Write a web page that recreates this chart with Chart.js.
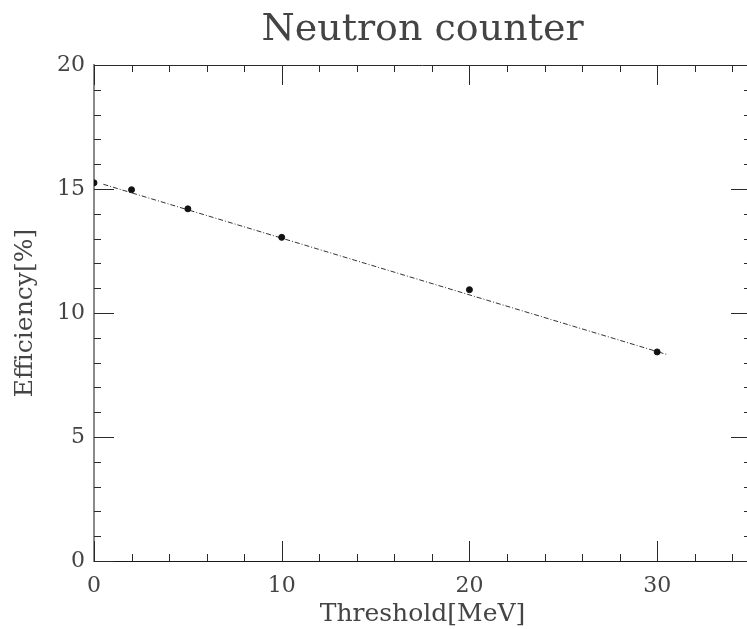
<!DOCTYPE html>
<html>
<head>
<meta charset="utf-8">
<script src="https://cdn.jsdelivr.net/npm/chart.js@4/dist/chart.umd.min.js"></script>
<style>
html,body{margin:0;padding:0;overflow:hidden;background:#fff;}
#wrap{width:755px;height:629px;}
</style>
</head>
<body>
<div id="wrap"><canvas id="c" width="755" height="629"></canvas></div>
<script>
// ---- data ----
const thresholds = [0, 2, 5, 10, 20, 30];          // MeV
const efficiency = [15.25, 14.97, 14.2, 13.05, 10.94, 8.43]; // %
const fitX = [0.5, 30.5];
const fitY = [15.19, 8.33];
const xTickValues = [0, 10, 20, 30];
const yTickValues = [0, 5, 10, 15, 20];
const xMinorStep = 2, yMinorStep = 1;

const TEXT = '#444';
const FONT = "'DejaVu Serif', 'Liberation Serif', serif";

const frameTicks = {
  id: 'frameTicks',
  afterDraw(chart) {
    const {ctx, chartArea: a, scales: {x, y}} = chart;
    ctx.save();
    ctx.strokeStyle = '#2a2a2a';
    ctx.lineWidth = 1;
    ctx.beginPath();
    ctx.moveTo(a.left, a.top + 0.5); ctx.lineTo(a.right, a.top + 0.5);
    ctx.moveTo(a.right - 0.5, a.top); ctx.lineTo(a.right - 0.5, a.bottom);
    for (let v = x.min; v <= x.max + 1e-9; v += xMinorStep) {
      const px = Math.round(x.getPixelForValue(v)) + 0.5;
      ctx.moveTo(px, a.bottom); ctx.lineTo(px, a.bottom - 7);
      ctx.moveTo(px, a.top); ctx.lineTo(px, a.top + 7);
    }
    for (const v of xTickValues) {
      const px = Math.round(x.getPixelForValue(v)) + 0.5;
      ctx.moveTo(px, a.bottom); ctx.lineTo(px, a.bottom - 20);
      ctx.moveTo(px, a.top); ctx.lineTo(px, a.top + 20);
    }
    for (let v = y.min; v <= y.max + 1e-9; v += yMinorStep) {
      const py = Math.round(y.getPixelForValue(v)) + 0.5;
      const len = yTickValues.includes(v) ? 20 : 7;
      ctx.moveTo(a.left, py); ctx.lineTo(a.left + len, py);
      ctx.moveTo(a.right, py); ctx.lineTo(a.right - len, py);
    }
    ctx.stroke();
    ctx.restore();
  }
};

new Chart(document.getElementById('c'), {
  type: 'scatter',
  data: {
    datasets: [
      {
        label: 'Efficiency',
        data: thresholds.map((t, i) => ({x: t, y: efficiency[i]})),
        backgroundColor: '#111',
        borderColor: '#111',
        pointRadius: 3,
        pointHoverRadius: 3,
        showLine: false
      },
      {
        label: 'Fit',
        data: fitX.map((t, i) => ({x: t, y: fitY[i]})),
        showLine: true,
        borderColor: '#333',
        borderWidth: 1,
        borderDash: [5, 2, 1, 2],
        pointRadius: 0,
        pointHoverRadius: 0,
        fill: false
      }
    ]
  },
  options: {
    responsive: false,
    animation: false,
    devicePixelRatio: 1,
    layout: {padding: {left: 0, right: 4, top: 0, bottom: 0}},
    plugins: {
      legend: {display: false},
      tooltip: {enabled: false},
      title: {
        display: true,
        text: 'Neutron counter',
        fullSize: false,
        color: TEXT,
        font: {family: FONT, size: 38, weight: 'normal', lineHeight: 1.2},
        padding: {top: 7, bottom: 12.4}
      }
    },
    scales: {
      x: {
        type: 'linear',
        min: 0, max: 35,
        afterFit: s => { s.height = 68; },
        afterBuildTicks: s => { s.ticks = xTickValues.map(v => ({value: v})); },
        ticks: {
          color: TEXT,
          padding: 12,
          maxRotation: 0,
          font: {family: FONT, size: 22},
          includeBounds: false
        },
        grid: {display: false, drawTicks: false},
        border: {display: true, color: '#1a1a1a', width: 1},
        title: {
          display: true,
          text: 'Threshold[MeV]',
          color: TEXT,
          font: {family: FONT, size: 25, lineHeight: 1.2},
          padding: {top: 0, bottom: 0}
        }
      },
      y: {
        type: 'linear',
        min: 0, max: 20,
        afterFit: s => { s.width = 94; },
        afterBuildTicks: s => { s.ticks = yTickValues.map(v => ({value: v})); },
        ticks: {
          color: TEXT,
          padding: 9,
          font: {family: FONT, size: 22},
          includeBounds: false
        },
        grid: {display: false, drawTicks: false},
        border: {display: true, color: '#8a8a8a', width: 2},
        title: {
          display: true,
          text: 'Efficiency[%]',
          color: TEXT,
          font: {family: FONT, size: 25, lineHeight: 1.2},
          padding: {top: 10, bottom: 0}
        }
      }
    }
  },
  plugins: [frameTicks]
});
</script>
</body>
</html>
